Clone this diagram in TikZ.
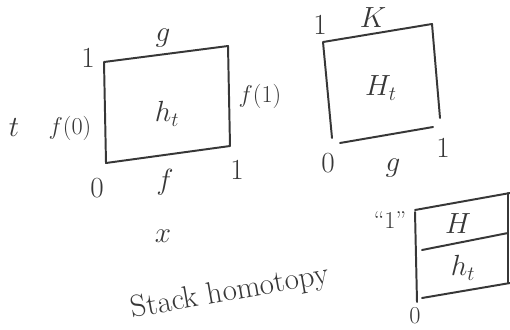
\documentclass[tikz,border=0pt]{standalone}
\usepackage{amsmath,amssymb}
\usetikzlibrary{positioning}
\definecolor{penink}{RGB}{55,55,55}

\begin{document}
\begin{tikzpicture}[x=0.025cm,y=-0.025cm]
\tikzset{pen/.style={draw=penink,line width=1.4pt,line cap=round,line join=round},
  lbl/.style={text=penink,font=\huge,inner sep=1pt}}
\useasboundingbox (0,0) rectangle (510,329);
% homotopy h_t from f to g
\draw[pen] (104,62) -- (228,46) -- (230,146) -- (106,163) -- cycle;
\node[lbl] (ht) at (167,114) {$h_t$};
\node[lbl] (gtop) at (163,38) {$g$};
\node[lbl] (fbot) at (165,182) {$f$};
\node[lbl] (onel) at (88,58) {$1$};
\node[lbl] (zerol) at (97,188) {$0$};
\node[lbl] (oner) at (237,170) {$1$};
\node[lbl,font=\LARGE] (fzero) at (70,128) {$f(0)$};
\node[lbl,font=\LARGE] (fone) at (260,96) {$f(1)$};
\node[lbl] (tvar) at (14,128) {$t$};
% homotopy H_t from g to K
\draw[pen] (332,138) -- (323,42) -- (432,24) -- (440,118);
\draw[pen] (340,143) -- (433,127);
\node[lbl] (Ht) at (381,88) {$H_t$};
\node[lbl] (Ktop) at (373,18) {$K$};
\node[lbl] (gbot) at (393,168) {$g$};
\node[lbl] (oneK) at (320,25) {$1$};
\node[lbl] (zeroK) at (328,163) {$0$};
\node[lbl] (onegr) at (443,148) {$1$};
% stacked
\node[lbl] (xvar) at (163,236) {$x$};
\node[lbl,font=\fontsize{22}{26}\selectfont,rotate=10,inner sep=0pt] (stack) at (230,293) {Stack homotopy};
\draw[pen] (415,212) -- (417,302);
\draw[pen] (415,210) -- (510,193);
\draw[pen] (422,250) -- (508,233);
\draw[pen] (422,298) -- (510,283);
\draw[pen] (508,193) -- (508,283);
\node[lbl] (Hs) at (458,224) {$H$};
\node[lbl] (hs) at (463,268) {$h_t$};
\node[lbl,font=\LARGE] (ones) at (390,220) {``$1$''};
\node[lbl,font=\LARGE] (zeros) at (415,316) {$0$};
\end{tikzpicture}
\end{document}
